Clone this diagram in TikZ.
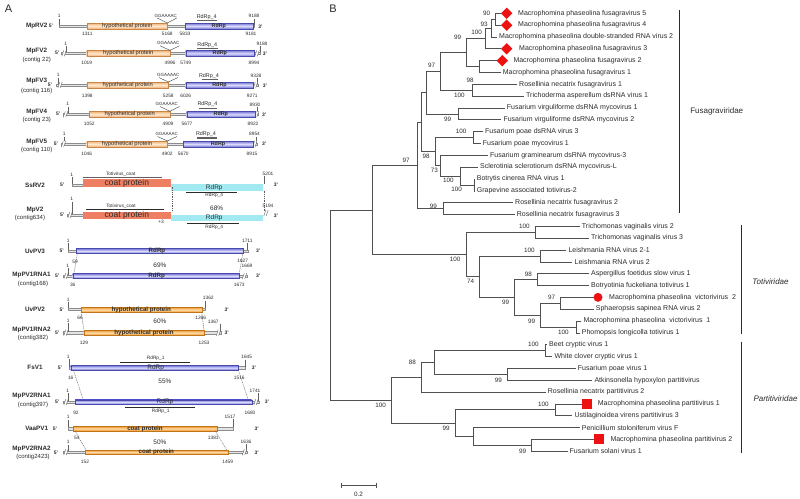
\documentclass[tikz,border=0pt]{standalone}
\usepackage{fontspec}
\setmainfont{Liberation Sans}
\usetikzlibrary{shapes.geometric}
\definecolor{txt}{HTML}{2B2B2B}
\definecolor{brc}{HTML}{505050}
\definecolor{hypO}{HTML}{F0B070}
\definecolor{hypL}{HTML}{FDE8D0}
\definecolor{hypE}{HTML}{C8864A}
\definecolor{orgO}{HTML}{F2921E}
\definecolor{orgL}{HTML}{FCDDB0}
\definecolor{rdB}{HTML}{7272DC}
\definecolor{rdL}{HTML}{DCDCFA}
\definecolor{rdE}{HTML}{4A4AA8}
\definecolor{coatc}{HTML}{EF7F62}
\definecolor{cyanc}{HTML}{A2EAF2}
\definecolor{bbf}{HTML}{E4E4E4}
\definecolor{bbd}{HTML}{8C8C8C}
\definecolor{mark}{HTML}{EE1111}
\newcommand\brk[2]{\begin{scope}[shift={(#1,#2)}]
 \fill[white] (-2.0,2.8)--(0.4,2.8)--(2.0,-2.8)--(-0.4,-2.8)--cycle;
 \draw[bbd!70!black,line width=0.4pt] (-2.2,3)--(-0.2,-3) (0.2,3)--(2.2,-3);
\end{scope}}
\begin{document}
\begin{tikzpicture}[x=1pt,y=-1pt,
  every node/.style={inner sep=0pt, text=txt},
  bb/.style={draw=bbd, fill=bbf, line width=0.35pt},
  hyp/.style={draw=hypE, line width=0.3pt, top color=hypO, bottom color=hypO, middle color=hypL},
  org/.style={draw=orgO!80!black, line width=0.3pt, top color=orgO, bottom color=orgO, middle color=orgL},
  rdrp/.style={draw=rdE, line width=0.3pt, top color=rdB, bottom color=rdB, middle color=rdL},
  rn/.style={font=\fontsize{6.3}{7}\selectfont\bfseries},
  ct/.style={font=\fontsize{6}{7}\selectfont},
  num/.style={font=\fontsize{4.8}{5}\selectfont},
  pr/.style={font=\fontsize{5}{6}\selectfont\bfseries},
  boxt/.style={font=\fontsize{5.8}{6}\selectfont},
  boxtb/.style={font=\fontsize{6.2}{7}\selectfont\bfseries},
  rdt/.style={font=\fontsize{5.4}{6}\selectfont\bfseries},
  gg/.style={font=\fontsize{4.5}{5}\selectfont},
  dom/.style={font=\fontsize{5.4}{6}\selectfont},
  dom2/.style={font=\fontsize{4.8}{5}\selectfont},
  coatt/.style={font=\fontsize{8.5}{9}\selectfont},
  cyt/.style={font=\fontsize{6.5}{7}\selectfont},
  pct/.style={font=\fontsize{6.5}{7}\selectfont},
  dombar/.style={draw=gray!75!black, line width=1.2pt},
  blkbar/.style={draw=txt, line width=0.5pt},
  tck/.style={draw=bbd!70!black, line width=0.4pt},
  vl/.style={draw=txt, line width=0.35pt},
  dsh/.style={draw=gray!70!black, line width=0.4pt, dash pattern=on 1pt off 0.8pt},
  br/.style={draw=brc, line width=0.65pt},
  tl/.style={font=\fontsize{7}{8}\selectfont, anchor=west},
  bs/.style={font=\fontsize{6.3}{7}\selectfont},
  fam/.style={font=\fontsize{8}{9}\selectfont},
  fbar/.style={draw=txt, line width=0.9pt},
  dia/.style={diamond, fill=mark, minimum width=11.5pt, minimum height=11.5pt, inner sep=0pt},
  sq/.style={rectangle, fill=mark, minimum size=10pt, inner sep=0pt},
  cir/.style={circle, fill=mark, minimum size=9pt, inner sep=0pt}
]
\useasboundingbox (0,0) rectangle (800,498);
\fill[white] (0,0) rectangle (800,498);
\node[font=\fontsize{11}{12}\selectfont] (labA) at (8.5,8.5) {A};
\node[font=\fontsize{11}{12}\selectfont] (labB) at (333,9) {B};

% ===== backbones =====
\draw[bb] (59.3,24.8) rectangle (254,27.2);
\draw[bb] (61,52.1) rectangle (260,54.5);
\draw[bb] (56,83.8) rectangle (258,86.2);
\draw[bb] (63,113.1) rectangle (258,115.5);
\draw[bb] (61,142.8) rectangle (257,145.2);
\draw[bb] (72,183.8) rectangle (83,186.2);
\draw[bb] (67,213.8) rectangle (83,216.2);
\draw[bb] (68.3,249.8) rectangle (248,252.2);
\draw[bb] (63,274.8) rectangle (247,277.2);
\draw[bb] (68.3,308.1) rectangle (205.5,310.5);
\draw[bb] (63,331.5) rectangle (221,333.9);
\draw[bb] (69,366.5) rectangle (245,368.9);
\draw[bb] (63,400.9) rectangle (259,403.3);
\draw[bb] (68.5,427.4) rectangle (233,429.8);
\draw[bb] (63,451) rectangle (247,453.4);

% ===== ticks =====
\foreach \x/\a/\b in {59.3/18.5/24.8, 254/18.5/24.8, 66/46/52.1, 260/46/52.1, 58.5/77.5/83.8, 257/78/83.8,
  67.7/106.5/113.1, 257/106.7/113.1, 64.3/136.5/142.8, 256/136.5/142.8, 72/177/183.8, 264/176/184,
  72/201.5/213.8, 68.3/243/249.8, 247.5/243/249.8, 68/267.5/274.8, 68.3/302/308.1, 205.5/300.5/308.1,
  68/323.3/331.5, 220/323.5/331.5, 69/359/366.5, 245/359.5/366.5, 68/393/400.9, 258/393.3/400.9,
  68.5/419.7/427.4, 233/419/427.4, 68/444.7/451, 246.5/444/451}
  \draw[tck] (\x,\a) -- (\x,\b);

% ===== breaks =====
\brk{64}{53.3}\brk{257}{53.3}
\brk{60}{85}\brk{255.5}{85}
\brk{65.5}{114.3}\brk{256.5}{114.3}
\brk{63.5}{144}\brk{254.8}{144}
\brk{70}{215}\brk{266}{213}
\brk{66}{276}\brk{244.5}{276}
\brk{66}{332.7}\brk{218.5}{332.7}
\brk{66}{402.1}\brk{256}{402.1}
\brk{66}{452.2}\brk{244.5}{452.2}

% ===== fusagravirus rows =====
\draw[hyp] (87.3,23) rectangle (167.3,29);
\draw[rdrp] (185,23) rectangle (252.7,29);
\node[boxt] (h1) at (127.3,26) {hypothetical protein};
\node[rdt] (r1) at (218.8,26) {RdRp};
\node[gg] (g1) at (165.7,15.5) {GGAAAAC};
\draw[vl] (157.3,18) -- (167.3,23) -- (176.8,18);
\node[dom] (d1) at (206.7,17.3) {RdRp\_4};
\draw[dombar] (196.7,20.5) -- (217.3,20.5);

\draw[hyp] (86.7,50.3) rectangle (170,56.3);
\draw[rdrp] (185.7,50.3) rectangle (254,56.3);
\node[boxt] (h2) at (128.3,53.3) {hypothetical protein};
\node[rdt] (r2) at (219.8,53.3) {RdRp};
\node[gg] (g2) at (168.3,43.3) {GGAAAAC};
\draw[vl] (160,45.8) -- (170,50.3) -- (179.5,45.8);
\node[dom] (d2) at (207.3,45) {RdRp\_4};
\draw[dombar] (197.3,48.3) -- (218.3,48.3);

\draw[hyp] (87.3,82) rectangle (168.3,88);
\draw[rdrp] (185.7,82) rectangle (253.3,88);
\node[boxt] (h3) at (127.8,85) {hypothetical protein};
\node[rdt] (r3) at (219.5,85) {RdRp};
\node[gg] (g3) at (168.3,75) {GGAAAAC};
\draw[vl] (159,77.5) -- (168.3,82) -- (178,77.5);
\node[dom] (d3) at (209,76.2) {RdRp\_4};
\draw[dombar] (201.7,79.5) -- (218.3,79.5);

\draw[hyp] (89.3,111.3) rectangle (170,117.3);
\draw[rdrp] (186.7,111.3) rectangle (255,117.3);
\node[boxt] (h4) at (129.7,114.3) {hypothetical protein};
\node[rdt] (r4) at (220.8,114.3) {RdRp};
\node[gg] (g4) at (166.7,104) {GGAAAAC};
\draw[vl] (160,106.5) -- (170,111.3) -- (179.5,106.5);
\node[dom] (d4) at (207.5,104.3) {RdRp\_4};
\draw[dombar] (199,108.3) -- (216.7,108.3);

\draw[hyp] (86.7,141) rectangle (167.3,147);
\draw[rdrp] (183.3,141) rectangle (252.7,147);
\node[boxt] (h5) at (127,144) {hypothetical protein};
\node[rdt] (r5) at (218,144) {RdRp};
\node[gg] (g5) at (166.7,134) {GGAAAAC};
\draw[vl] (157.5,136.5) -- (167.3,141) -- (177,136.5);
\node[dom] (d5) at (206,134.3) {RdRp\_4};
\draw[dombar] (196.7,138) -- (216.7,138);

% ===== SsRV2 / MpV2 =====
\fill[coatc] (82.7,179) rectangle (171,186.5);
\node[coatt] (c1) at (126.8,182.9) {coat protein};
\fill[cyanc] (171,184) rectangle (263,190.5);
\node[cyt] (cy1) at (214.3,187.4) {RdRp};
\node[dom2] (tc1) at (120.7,174) {Totivirus\_coat};
\draw[dombar] (83.3,177.3) -- (162.3,177.3);
\draw[blkbar] (186,191.9) -- (237.3,191.9);
\node[dom2] (rd41) at (214.3,195) {RdRp\_4};

\fill[coatc] (82.7,211.7) rectangle (171,218.5);
\node[coatt] (c2) at (126.8,215.3) {coat protein};
\fill[cyanc] (171,215) rectangle (263,221.3);
\node[cyt] (cy2) at (214.3,218.3) {RdRp};
\node[dom2] (tc2) at (121,206) {Totivirus\_coat};
\draw[blkbar] (86,209.4) -- (164,209.4);
\draw[blkbar] (186.7,223.4) -- (239.3,223.4);
\node[dom2] (rd42) at (214.3,226.8) {RdRp\_4};
\draw[dsh] (172,186.5) -- (172,211.7);
\draw[dsh] (264,190.5) -- (264,211);

% ===== partiti-like rows =====
\draw[rdrp] (76,248.5) rectangle (243.3,253.5);
\node[boxtb] (r6) at (157,251) {RdRp};
\draw[rdrp] (72.7,273.5) rectangle (239.3,278.5);
\node[boxtb] (r7) at (156.7,276) {RdRp};
\draw[dsh] (77.3,253.7) -- (74,273.3);
\draw[dsh] (242.7,253.7) -- (239.3,273.3);

\draw[org] (81,307.1) rectangle (201.7,312.3);
\node[boxtb] (h6) at (141.3,309.7) {hypothetical protein};
\draw[org] (84,330.1) rectangle (204,335.3);
\node[boxtb] (h7) at (144,332.7) {hypothetical protein};
\draw[dsh] (81,312.3) -- (84,330.1);
\draw[dsh] (201.7,312.3) -- (204,330.1);

\draw[rdrp] (70.7,365.5) rectangle (238.3,370);
\node[cyt] (r8) at (155.7,367.8) {RdRp};
\draw[blkbar] (120,362.6) -- (190,362.6);
\node[dom2] (rd11) at (155.7,358.6) {RdRp\_1};
\draw[rdrp] (75,399.8) rectangle (251.7,404.4);
\node[cyt] (r9) at (165,402.1) {RdRp};
\draw[blkbar] (125,406.8) -- (195,406.8);
\node[dom2] (rd12) at (160.7,410.8) {RdRp\_1};
\draw[dsh] (73.3,370) -- (83.3,399.8);
\draw[dsh] (238.3,370) -- (248.3,399.8);

\draw[org] (73.3,426.4) rectangle (216.7,430.8);
\node[boxtb] (c3) at (145,428.6) {coat protein};
\draw[org] (85,450) rectangle (227.7,454.4);
\node[boxtb] (c4) at (156.3,452.2) {coat protein};
\draw[dsh] (75,430.8) -- (86,450);
\draw[dsh] (215,430.8) -- (227,450);

% ===== texts panel A =====
\foreach \x/\y/\t [count=\k] in {36.7/26/MpRV2, 36.7/51/MpFV2, 36.7/80.7/MpFV3, 36.7/111.7/MpFV4, 36.7/141.7/MpFV5,
  35/185/SsRV2, 35/210/MpV2, 35/251/UvPV3, 31.5/275/MpPV1RNA1, 35/309.3/UvPV2, 31.5/330/MpPV1RNA2,
  35/367.7/FsV1, 31.5/396/MpPV2RNA1, 36.7/428.3/VaaPV1, 31.5/449/MpPV2RNA2}
  \node[rn] (rn\k) at (\x,\y) {\t};
\foreach \x/\y/\t [count=\k] in {36.7/60/{(contig 22)}, 36.7/90.7/{(contig 116)}, 36.7/120/{(contig 23)},
  36.7/150/{(contig 110)}, 30/217.5/{(contig634)}, 33/284.3/{(contig168)}, 33/338.3/{(contig382)},
  33/405/{(contig397)}, 33/456.7/{(contig2423)}}
  \node[ct] (ct\k) at (\x,\y) {\t};
\foreach \x/\y [count=\k] in {51/26, 57.3/53.3, 50/85, 58.3/114.3, 56/144, 62.3/185, 62.3/215, 61.7/251,
  57.3/276, 61.7/309.3, 57.3/332.7, 60/367.7, 57.3/401.7, 55/428.3, 56/452.3}
  \node[pr] (fp\k) at (\x,\y) {5'};
\foreach \x/\y [count=\k] in {260.5/26.5, 265/53.3, 265/85.3, 264.3/115, 264.3/144, 276/185, 276/216, 258.3/251,
  258.3/276, 226.7/309.3, 226.7/332.7, 254/367.7, 267/402, 256.7/428.3, 256.7/452.3}
  \node[pr] (tp\k) at (\x,\y) {3'};
\foreach \x/\y/\t [count=\k] in {
  59.3/16/1, 87.3/33.5/1311, 167.3/33.5/5168, 185/33.5/5833, 251/33.5/9181, 254/15.7/9188,
  65.7/44/1, 86.7/63.3/1019, 170/63.3/4996, 185.7/63.3/5749, 254/63.3/8994, 262/44/9188,
  58.3/75/1, 87.3/95.7/1398, 168.3/95.7/5258, 185.7/95.7/6026, 252.3/95.7/9271, 256/76/9328,
  67.7/104.3/1, 89.3/124/1052, 168/124/4909, 187/124/5677, 253/124/8922, 255/104.7/8930,
  64.3/134/1, 86.7/154/1046, 167.3/154/4902, 183.3/154/5670, 252/154/8915, 254.5/134.3/8954,
  71.7/175/1, 268/173.5/5201,
  71.7/199/1, 268/205.5/5194, 161/222/+3,
  68.3/241/1, 247.3/240.7/1711, 75/261.7/59, 242.7/261.3/1627, 247/265.7/1669,
  67.7/265.5/1, 72.7/285/36, 239.3/285/1673,
  68.3/300/1, 208.3/298.3/1362, 80/318.3/66, 200.7/318.3/1266,
  68.3/321/1, 213.3/321.5/1367, 84/343.3/129, 204/343.3/1253,
  68.3/356.7/1, 246.7/357.3/1645, 70.7/377.7/16, 239.3/377.7/1516,
  67.7/390.7/1, 255/391/1741, 76/413.3/92, 250/413.3/1680,
  68.3/417.3/1, 230/416.7/1517, 76.7/438.3/54, 213.3/438.3/1381,
  68.3/442.3/1, 246/441.7/1636, 85/461.7/152, 227.7/461.7/1459}
  \node[num] (nm\k) at (\x,\y) {\t};
\foreach \x/\y/\t [count=\k] in {216.7/208.3/68\%, 160/265/69\%, 160/321.5/60\%, 165/381.7/55\%, 160/442.3/50\%}
  \node[pct] (pc\k) at (\x,\y) {\t};

% ===== tree =====
\coordinate (A) at (495.5,19.2);
\coordinate (B) at (491.5,28.1);
\coordinate (C) at (485,38.45);
\coordinate (E) at (479,66.55);
\coordinate (D) at (466.7,52.5);
\coordinate (G) at (472.3,90.2);
\coordinate (F) at (440,71.35);
\coordinate (H) at (458.3,113.9);
\coordinate (X) at (426.7,92.6);
\coordinate (N1011) at (473.3,137.6);
\coordinate (N1415) at (474,184.9);
\coordinate (N13) at (460.7,176.05);
\coordinate (N73) at (440.7,165.7);
\coordinate (N98) at (435,151.65);
\coordinate (Y) at (421.7,122.1);
\coordinate (N1617) at (443.3,208.6);
\coordinate (FG) at (417.3,165.35);
\coordinate (Tr) at (535.7,232.25);
\coordinate (Le) at (540.7,255.95);
\coordinate (N98t) at (537.3,279.6);
\coordinate (N97t) at (560.7,303.3);
\coordinate (N100t) at (576,326.95);
\coordinate (N99b) at (540.7,315.1);
\coordinate (N99a) at (514.3,297.35);
\coordinate (N74) at (479.3,276.65);
\coordinate (T) at (466.7,254.45);
\coordinate (FT) at (372.5,209.9);
\coordinate (Be) at (545,350.6);
\coordinate (N3031) at (507.7,374.3);
\coordinate (N434) at (434,362.45);
\coordinate (N88) at (421,377.2);
\coordinate (N3334) at (555,409.8);
\coordinate (N3637) at (531.7,445.3);
\coordinate (N473) at (473.3,436.45);
\coordinate (N455) at (455,423.1);
\coordinate (P) at (391.7,400.15);
\coordinate (R) at (330,305);

\foreach \i/\xe/\xl/\t in {
 0/501.2/518/Macrophomina phaseolina fusagravirus 5,
 1/501.2/518/Macrophomina phaseolina fusagravirus 4,
 2/497/499/Macrophomina phaseolina double-stranded RNA virus 2,
 3/501.2/519/Macrophomina phaseolina fusagravirus 3,
 4/496.8/513.3/Macrophomina phaseolina fusagravirus 2,
 5/500.5/502.7/Macrophomina phaseolina fusagravirus 1,
 6/516.5/519/Rosellinia necatrix fusagravirus 1,
 7/523.8/526/Trichoderma asperellum dsRNA virus 1,
 8/504.5/506.7/Fusarium virguliforme dsRNA mycovirus 1,
 9/501/503.3/Fusarium virguliforme dsRNA mycovirus 2,
 10/483/485/Fusarium poae dsRNA virus 3,
 11/480.5/482.7/Fusarium poae mycovirus 1,
 12/488/490/Fusarium graminearum dsRNA mycovirus-3,
 13/478/480/Sclerotinia sclerotiorum dsRNA mycovirus-L,
 14/475.3/476.7/Botrytis cinerea RNA virus 1,
 15/475.3/476.7/Grapevine associated totivirus-2,
 16/513/515/Rosellinia necatrix fusagravirus 2,
 17/514.7/516.7/Rosellinia necatrix fusagravirus 3,
 18/579.5/581.7/Trichomonas vaginalis virus 2,
 19/589/591/Trichomonas vaginalis virus 3,
 20/566/568.3/Leishmania RNA virus 2-1,
 21/572.3/574.5/Leishmania RNA virus 2,
 22/589/591/Aspergillus foetidus slow virus 1,
 23/589/591/Botryotinia fuckeliana totivirus 1,
 24/593.6/609/Macrophomina phaseolina~ victorivirus~ 2,
 25/593.5/595.7/Sphaeropsis sapinea RNA virus 2,
 26/581/583.3/Macrophomina phaseolina~ victorivirus~ 1,
 27/579.5/581.7/Phomopsis longicolla totivirus 1,
 28/547/549/Beet cryptic virus 1,
 29/552/554.3/White clover cryptic virus 1,
 30/575.5/577.7/Fusarium poae virus 1,
 31/592/594.3/Atkinsonella hypoxylon partitivirus,
 32/545.5/547.7/Rosellinia necatrix partitivirus 2,
 33/581.7/597.7/Macrophomina phaseolina partitivirus 1,
 34/572/574.3/Ustilaginoidea virens partitivirus 3,
 35/579.5/581.7/Penicillium stoloniferum virus F,
 36/593.7/610.3/Macrophomina phaseolina partitivirus 2,
 37/567.5/569.5/Fusarium solani virus 1}
{
 \pgfmathsetmacro\ty{13.3+11.835*\i}
 \coordinate (t\i) at (\xe,\ty);
 \node[tl] (L\i) at (\xl,\ty) {\t};
}

\foreach \p/\c in {A/t0, A/t1, B/A, B/t2, C/B, C/t3, E/t4, E/t5, D/C, D/E, G/t6, G/t7, F/D, F/G,
  H/t8, H/t9, X/F, X/H, N1011/t10, N1011/t11, N1415/t14, N1415/t15, N13/t13, N13/N1415, N73/t12, N73/N13,
  N98/N1011, N98/N73, Y/X, Y/N98, N1617/t16, N1617/t17, FG/Y, FG/N1617,
  Tr/t18, Tr/t19, Le/t20, Le/t21, N98t/t22, N98t/t23, N97t/t24, N97t/t25, N100t/t26, N100t/t27,
  N99b/N97t, N99b/N100t, N99a/N98t, N99a/N99b, N74/Le, N74/N99a, T/Tr, T/N74, FT/FG, FT/T,
  Be/t28, Be/t29, N3031/t30, N3031/t31, N434/Be, N434/N3031, N88/N434, N88/t32, N3334/t33, N3334/t34,
  N3637/t36, N3637/t37, N473/t35, N473/N3637, N455/N3334, N455/N473, P/N88, P/N455, R/FT, R/P}
  \draw[br] (\p) |- (\c);

% markers
\node[dia] (m0) at (506.7,13.3) {};
\node[dia] (m1) at (506.7,25.135) {};
\node[dia] (m3) at (506.7,48.805) {};
\node[dia] (m4) at (502.3,60.64) {};
\node[cir] (m24) at (598,297.34) {};
\node[sq] (m33) at (586.7,403.855) {};
\node[sq] (m36) at (598.7,439.36) {};

% bootstrap values
\foreach \x/\y/\t [count=\k] in {486.7/13.3/90, 484/24.3/93, 476.7/32.7/100, 457.7/37.7/99, 431.7/65.7/97,
  470/80/98, 459.3/95.7/100, 447.7/119/99, 461/131.7/100, 426/156/98, 434.3/170.7/73, 448.3/180/100,
  456.7/189.3/100, 406/160/97, 433.3/206/99, 455/259.3/100, 524.3/226.7/100, 529.3/250/100, 470.7/281.7/74,
  528.3/274/98, 505.7/302.7/99, 551.7/297.3/97, 531.7/321.7/99, 563.3/332.7/100, 380.7/405/100,
  412.3/362.3/88, 533.3/344.3/100, 498.3/380/99, 543.3/404/100, 446/428.3/99, 522.7/451/99}
  \node[bs] (bs\k) at (\x,\y) {\t};

% families
\coordinate (f1a) at (679,10); \coordinate (f1b) at (679,213);
\coordinate (f2a) at (741.7,225); \coordinate (f2b) at (741.7,334.3);
\coordinate (f3a) at (741.7,341.7); \coordinate (f3b) at (741.7,452.7);
\draw[fbar] (f1a) -- (f1b);
\draw[fbar] (f2a) -- (f2b);
\draw[fbar] (f3a) -- (f3b);
\node[fam] (fam1) at (716.7,111.7) {Fusagraviridae};
\node[fam, font=\fontsize{8}{9}\selectfont\itshape] (fam2) at (770.5,281.7) {Totiviridae};
\node[fam, font=\fontsize{8}{9}\selectfont\itshape] (fam3) at (775.5,398.3) {Partitiviridae};

% scale bar
\coordinate (s1) at (341,485); \coordinate (s2) at (376,485);
\draw[br, line width=0.8pt] (s1) -- (s2);
\draw[br, line width=0.8pt] ([yshift=-2.5pt]s1) -- ([yshift=2.5pt]s1);
\draw[br, line width=0.8pt] ([yshift=-2.5pt]s2) -- ([yshift=2.5pt]s2);
\node[bs] (sc) at (358.5,494) {0.2};
\end{tikzpicture}
\end{document}
